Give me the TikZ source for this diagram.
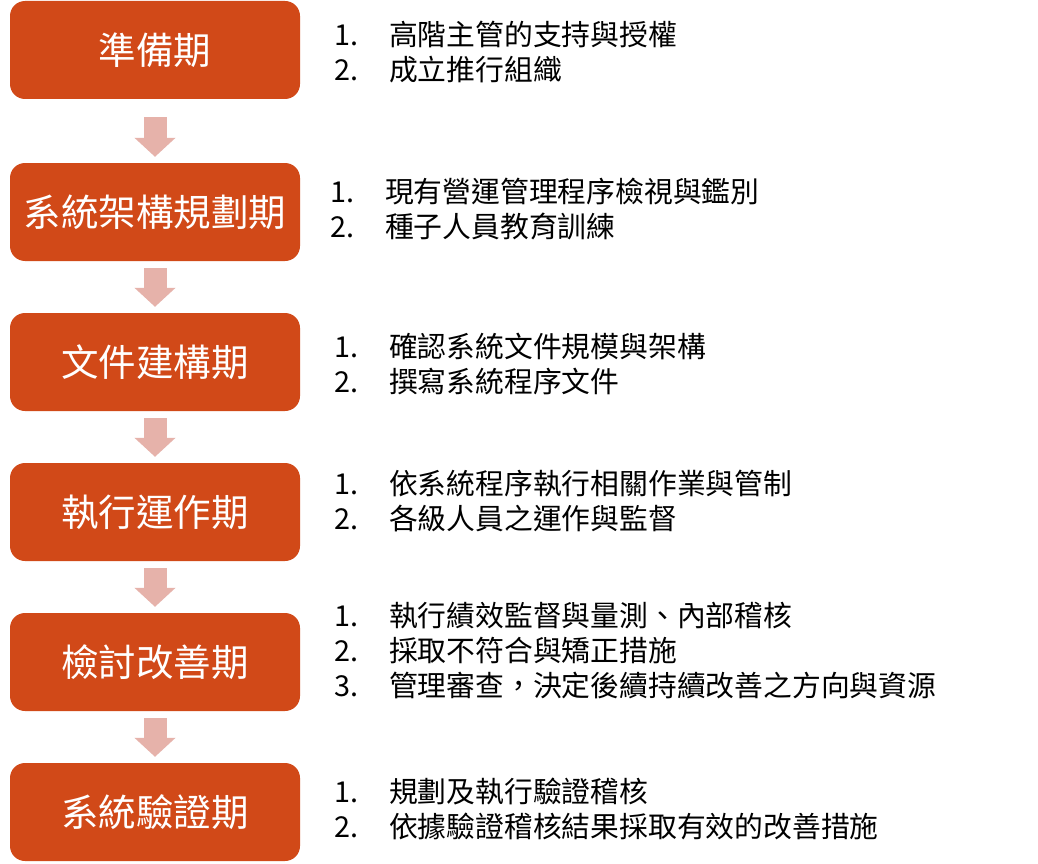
\documentclass[tikz,border=0pt]{standalone}
\usepackage{fontspec}
\setmainfont{Noto Sans CJK TC}
\usetikzlibrary{arrows.meta,calc}
\definecolor{boxred}{RGB}{209,73,24}
\definecolor{arrpink}{RGB}{230,178,170}
\tikzset{
  stagebox/.style={fill=boxred, draw=none, rounded corners=15pt, minimum width=290pt, minimum height=98pt, inner sep=0pt, text=white, font=\fontsize{37.5}{40}\selectfont},
  downarr/.style={draw=arrpink, line width=23pt, -{Triangle[width=40pt,length=19pt]}},
  itemlist/.style={anchor=west, align=left, inner sep=0pt, text=black, font=\fontsize{28.8}{35}\selectfont}
}
\newcommand{\numlab}[1]{\makebox[55pt][l]{#1}}
\begin{document}
\begin{tikzpicture}[x=1pt,y=-1pt]
\useasboundingbox (0,0) rectangle (1038,864);
\fill[white] (0,0) rectangle (1038,864);
\node[stagebox] (b1) at (155,50) {準備期};
\node[stagebox] (b2) at (155,212) {系統架構規劃期};
\node[stagebox] (b3) at (155,362) {文件建構期};
\node[stagebox] (b4) at (155,512) {執行運作期};
\node[stagebox] (b5) at (155,662) {檢討改善期};
\node[stagebox] (b6) at (155,812) {系統驗證期};
\draw[downarr, shorten <=18pt, shorten >=6pt] (b1.south) -- (b2.north);
\draw[downarr, shorten <=7pt, shorten >=6pt] (b2.south) -- (b3.north);
\draw[downarr, shorten <=7pt, shorten >=6pt] (b3.south) -- (b4.north);
\draw[downarr, shorten <=7pt, shorten >=6pt] (b4.south) -- (b5.north);
\draw[downarr, shorten <=7pt, shorten >=6pt] (b5.south) -- (b6.north);
\node[itemlist] (t1) at (334,52) {\numlab{1.}高階主管的支持與授權\\\numlab{2.}成立推行組織};
\node[itemlist] (t2) at (330,209) {\numlab{1.}現有營運管理程序檢視與鑑別\\\numlab{2.}種子人員教育訓練};
\node[itemlist] (t3) at (334,364) {\numlab{1.}確認系統文件規模與架構\\\numlab{2.}撰寫系統程序文件};
\node[itemlist] (t4) at (334,501) {\numlab{1.}依系統程序執行相關作業與管制\\\numlab{2.}各級人員之運作與監督};
\node[itemlist] (t5) at (334,651) {\numlab{1.}執行績效監督與量測、內部稽核\\\numlab{2.}採取不符合與矯正措施\\\numlab{3.}管理審查，決定後續持續改善之方向與資源};
\node[itemlist] (t6) at (334,809) {\numlab{1.}規劃及執行驗證稽核\\\numlab{2.}依據驗證稽核結果採取有效的改善措施};
\end{tikzpicture}
\end{document}
